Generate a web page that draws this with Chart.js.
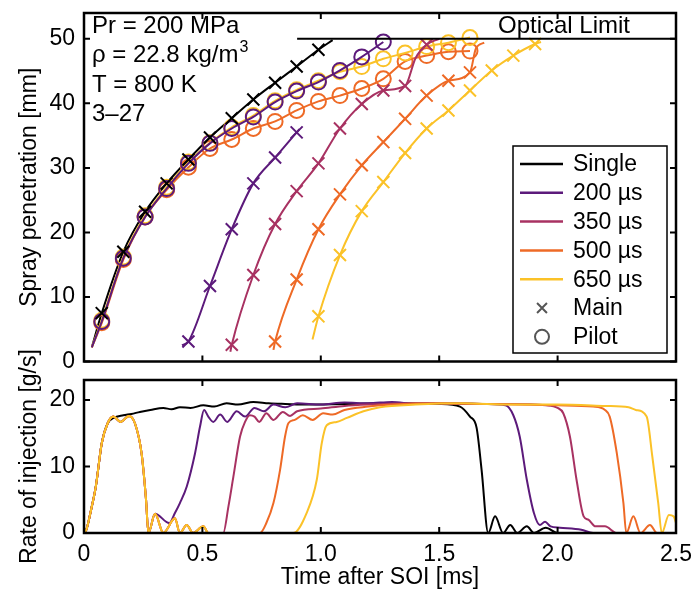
<!DOCTYPE html>
<html>
<head>
<meta charset="utf-8">
<script src="https://cdn.jsdelivr.net/npm/chart.js@4.4.0/dist/chart.umd.min.js"></script>
<style>
  html, body { margin: 0; padding: 0; background: #fff; }
  #wrap { position: relative; width: 691px; height: 601px; }
  #top { position: absolute; left: 0; top: 0; }
  #bot { position: absolute; left: 0; top: 330px; }
</style>
</head>
<body>
<div id="wrap">
  <canvas id="top" width="691" height="372"></canvas>
  <canvas id="bot" width="691" height="271"></canvas>
</div>
<script>
'use strict';

// ── Data ──────────────────────────────────────────────────────────────────────

const seriesLabels = ['Single', '200 µs', '350 µs', '500 µs', '650 µs'];
const seriesColors = ['#000000', '#5c1a7b', '#a83262', '#ee6a26', '#fbc228'];

const timeTicks = [0, 0.5, 1, 1.5, 2, 2.5];
const penTicks = [0, 10, 20, 30, 40, 50];
const rateTicks = [0, 10, 20];

const infoLines = ['Pr = 200 MPa', 'ρ = 22.8 kg/m', 'T = 800 K', '3–27'];
const opticalLimit = 50;
const opticalStart = 0.9;

// spray penetration, main injection (× markers)
const singleT = [0.075, 0.166, 0.258, 0.349, 0.441, 0.532, 0.624, 0.715, 0.807, 0.898, 0.990];
const singleMain = [7.5, 17.0, 23.2, 27.6, 31.3, 34.7, 37.7, 40.6, 43.2, 45.7, 48.3];
const main200T = [0.441, 0.532, 0.624, 0.715, 0.807, 0.898];
const main200 = [3.1, 11.7, 20.5, 27.6, 31.6, 35.5];
const main350T = [0.624, 0.715, 0.807, 0.898, 0.990, 1.081, 1.173, 1.264, 1.356, 1.447];
const main350 = [2.6, 13.4, 21.3, 26.4, 30.7, 36.1, 39.9, 42.0, 42.7, 49.1];
const main500T = [0.807, 0.898, 0.990, 1.081, 1.173, 1.264, 1.356, 1.447, 1.539, 1.630];
const main500 = [3.1, 12.7, 20.5, 25.9, 30.4, 34.0, 37.6, 41.2, 43.5, 44.8];
const main650T = [0.990, 1.081, 1.173, 1.264, 1.356, 1.447, 1.539, 1.630, 1.722, 1.813, 1.905];
const main650 = [7.0, 16.5, 23.3, 27.8, 32.3, 36.1, 38.9, 42.0, 45.1, 47.4, 49.2];

// fitted line ends for the main curves (single, 200, 350, 500, 650)
const mainLineStart = [[0.033, 2.2], [0.414, 2.5], [0.618, 1.5], [0.80, 1.8], [0.965, 3.4]];
const mainLineEnd = [[1.05, 49.8], [0.91, 36.0], [1.50, 50.0], [1.69, 49.4], [1.93, 49.5]];
const mainLineExtra = [[], [], [[1.40, 47.0]], [[1.655, 48.5]], []];

// spray penetration, pilot injection (○ markers)
const pilotT = [0.075, 0.166, 0.258, 0.349, 0.441, 0.532, 0.624, 0.715, 0.807, 0.898, 0.990, 1.081, 1.173, 1.264, 1.356, 1.447, 1.539, 1.630];
const pilot200 = [6.2, 16.0, 22.4, 26.8, 30.7, 33.8, 36.1, 37.9, 40.2, 41.9, 43.3, 45.1, 47.2, 49.5];
const pilot500 = [6.0, 15.8, 22.4, 26.6, 30.1, 33.0, 34.4, 36.1, 37.2, 38.9, 40.3, 41.2, 42.3, 43.8, 46.5, 47.4, 48.0, 48.1];
const pilot650 = [6.4, 16.2, 22.6, 27.0, 30.9, 33.9, 36.3, 38.1, 40.4, 42.1, 43.5, 44.9, 45.7, 46.9, 47.8, 48.8, 49.4, 50.2];
const pilotLineStart = [0.033, 2.2];

// rate of injection
const rateSingleT = [0, 0.01, 0.03, 0.05, 0.075, 0.1, 0.125, 0.166, 0.2, 0.236, 0.28, 0.335, 0.37, 0.405, 0.45, 0.504, 0.55, 0.602, 0.65, 0.715, 0.78, 0.85, 0.95, 1.1, 1.3, 1.5, 1.588, 1.63, 1.658, 1.679, 1.707, 1.736, 1.77, 1.80, 1.83, 1.87, 1.9, 1.95, 2.0, 2.5];
const rateSingle = [0, 0.5, 3.5, 7, 13.5, 16.5, 17.3, 17.7, 17.9, 18.2, 18.5, 18.8, 18.6, 18.9, 18.8, 19.2, 19.0, 19.5, 19.3, 19.7, 19.5, 19.4, 19.3, 19.4, 19.5, 19.4, 19.0, 17.5, 15.8, 9.5, 0, 2.5, 0, 1.2, 0, 1.0, 0, 0.8, 0, 0];

const pilotRateT = [0, 0.01, 0.03, 0.05, 0.075, 0.1, 0.124, 0.155, 0.19, 0.215, 0.243, 0.262, 0.272, 0.30, 0.335];
const pilotRate = [0, 0.5, 3.5, 7, 13.5, 16.5, 17.5, 16.7, 17.6, 16.5, 12, 5, 0, 2.9, 0];

const rate200T = [0.36, 0.384, 0.405, 0.434, 0.469, 0.49, 0.507, 0.525, 0.546, 0.575, 0.605, 0.645, 0.68, 0.72, 0.76, 0.8, 0.85, 0.9, 1.0, 1.1, 1.2, 1.3, 1.4, 1.5, 1.6, 1.7, 1.78, 1.813, 1.84, 1.87, 1.9, 1.925, 1.947, 1.97, 2.01, 2.1, 2.15, 2.5];
const rate200 = [1.5, 3, 4.5, 7, 12, 16, 18.5, 17.5, 16.7, 17.8, 16.7, 18.3, 17.5, 18.8, 18.3, 19.3, 18.9, 19.5, 19.3, 19.6, 19.5, 19.7, 19.4, 19.5, 19.5, 19.4, 19.2, 17.7, 14.5, 8, 3, 1.2, 1.7, 1.0, 0.8, 0.5, 0, 0];
const rate350T = [0.384, 0.405, 0.434, 0.46, 0.504, 0.525, 0.588, 0.61, 0.631, 0.659, 0.68, 0.70, 0.72, 0.74, 0.77, 0.80, 0.84, 0.87, 0.9, 1.0, 1.1, 1.2, 1.4, 1.6, 1.8, 1.95, 2.0, 2.024, 2.052, 2.08, 2.11, 2.13, 2.16, 2.2, 2.25, 2.5];
const rate350 = [2.2, 0, 1.2, 0, 1.0, 0, 0, 4, 8.5, 14.5, 16.7, 17.7, 17.5, 16.7, 18, 17, 18.2, 17.6, 18.3, 18.7, 19.1, 19.3, 19.5, 19.4, 19.4, 19.2, 18.8, 18, 14.5, 8, 2.5, 2, 1, 1, 0, 0];
const rate500T = [0.384, 0.405, 0.434, 0.46, 0.504, 0.525, 0.743, 0.77, 0.80, 0.828, 0.849, 0.863, 0.89, 0.924, 0.966, 1.01, 1.05, 1.1, 1.2, 1.3, 1.5, 1.7, 2.0, 2.15, 2.2, 2.22, 2.25, 2.278, 2.29, 2.32, 2.35, 2.39, 2.42, 2.5];
const rate500 = [2.2, 0, 1.2, 0, 1.0, 0, 0, 1.5, 4.5, 9.5, 14.5, 16.5, 17, 17.7, 17, 18, 17.8, 18.5, 19, 19.3, 19.5, 19.4, 19.2, 19.0, 18.5, 17.5, 12, 4.5, 0, 2.5, 0, 1.2, 0, 0];
const rate650T = [0.384, 0.405, 0.434, 0.46, 0.504, 0.525, 0.884, 0.94, 0.983, 1.004, 1.025, 1.067, 1.11, 1.18, 1.25, 1.4, 1.6, 1.8, 2.0, 2.2, 2.3, 2.33, 2.376, 2.40, 2.425, 2.44, 2.47, 2.49, 2.5];
const rate650 = [2.2, 0, 1.2, 0, 1.0, 0, 0, 3, 8, 13.5, 16.2, 16.7, 17.3, 18.3, 18.9, 19.3, 19.5, 19.3, 19.3, 19.1, 18.9, 18.5, 17.5, 11.5, 4.5, 0, 2.7, 2.5, 1.5];

// ── Helpers ───────────────────────────────────────────────────────────────────

const FONT = '"Liberation Sans", Arial, Helvetica, sans-serif';
Chart.defaults.font.family = FONT;
Chart.defaults.font.size = 23;
Chart.defaults.color = '#000';

function pts(t, v) {
  return v.map((y, i) => ({ x: t[i], y }));
}

function fitLine(start, t, v, extra, end) {
  const p = [{ x: start[0], y: start[1] }, ...pts(t, v)];
  (extra || []).forEach(e => p.push({ x: e[0], y: e[1] }));
  if (end) p.push({ x: end[0], y: end[1] });
  return p.sort((a, b) => a.x - b.x);
}

function lineSet(data, color, width = 2) {
  return {
    data, showLine: true, borderColor: color, borderWidth: width,
    pointRadius: 0, fill: false, cubicInterpolationMode: 'monotone',
  };
}

function markSet(data, color, style) {
  return {
    data, showLine: false, pointStyle: style,
    pointRadius: style === 'circle' ? 7.5 : 8.5,
    pointBorderColor: color, pointBackgroundColor: 'transparent',
    pointBorderWidth: 2,
  };
}

// keep the plot box exactly where the layout padding puts it
function noPadY(s) { s.width = 84; s.paddingTop = 0; s.paddingBottom = 0; }
function noPadX(h) {
  return s => { s.height = h; s.paddingLeft = 0; s.paddingRight = 0; };
}

// MATLAB-like box with inward ticks on all four sides
const matlabFrame = {
  id: 'matlabFrame',
  afterDatasetsDraw(chart, args, opts) {
    const { ctx, chartArea: a, scales: { x, y } } = chart;
    ctx.save();
    ctx.strokeStyle = '#000';
    ctx.lineWidth = 2;
    ctx.beginPath();
    opts.xTicks.forEach(v => {
      const px = x.getPixelForValue(v);
      ctx.moveTo(px, a.bottom); ctx.lineTo(px, a.bottom - 6);
      ctx.moveTo(px, a.top); ctx.lineTo(px, a.top + 6);
    });
    opts.yTicks.forEach(v => {
      const py = y.getPixelForValue(v);
      ctx.moveTo(a.left, py); ctx.lineTo(a.left + 6, py);
      ctx.moveTo(a.right, py); ctx.lineTo(a.right - 6, py);
    });
    ctx.stroke();
    ctx.lineWidth = 2.5;
    ctx.strokeRect(a.left, a.top, a.right - a.left, a.bottom - a.top);
    ctx.restore();
  },
};

// info text, optical limit label and legend box
const topDecor = {
  id: 'topDecor',
  afterDraw(chart) {
    const { ctx, chartArea: a } = chart;
    ctx.save();
    ctx.fillStyle = '#000';
    ctx.font = '24px ' + FONT;
    ctx.textAlign = 'left';
    ctx.textBaseline = 'alphabetic';
    infoLines.forEach((s, i) => {
      const by = a.top + 20 + i * 29.3;
      ctx.fillText(s, a.left + 8, by);
      if (i === 1) {
        const w = ctx.measureText(s).width;
        ctx.font = '16px ' + FONT;
        ctx.fillText('3', a.left + 9 + w, by - 10);
        ctx.font = '24px ' + FONT;
      }
    });
    ctx.fillText('Optical Limit', a.left + 414, a.top + 20);

    // legend
    const lx = a.right - 163, ly = a.top + 133, lw = 154, lh = 207;
    ctx.fillStyle = '#fff';
    ctx.fillRect(lx, ly, lw, lh);
    ctx.strokeStyle = '#000';
    ctx.lineWidth = 1.5;
    ctx.strokeRect(lx, ly, lw, lh);
    ctx.font = '23px ' + FONT;
    ctx.textBaseline = 'middle';
    const row = i => ly + 18 + i * 28.8;
    seriesLabels.forEach((lab, i) => {
      ctx.strokeStyle = seriesColors[i];
      ctx.lineWidth = 2.5;
      ctx.beginPath();
      ctx.moveTo(lx + 7, row(i)); ctx.lineTo(lx + 50, row(i));
      ctx.stroke();
      ctx.fillStyle = '#000';
      ctx.fillText(lab, lx + 60, row(i) + 1);
    });
    ctx.strokeStyle = '#555';
    ctx.lineWidth = 2;
    const cx = lx + 29;
    Chart.helpers.drawPoint(ctx, { pointStyle: 'crossRot', radius: 7, borderWidth: 2 }, cx, row(5));
    ctx.beginPath();
    ctx.arc(cx, row(6), 7, 0, Math.PI * 2);
    ctx.stroke();
    ctx.fillStyle = '#000';
    ctx.fillText('Main', lx + 60, row(5) + 1);
    ctx.fillText('Pilot', lx + 60, row(6) + 1);
    ctx.restore();
  },
};

// ── Top chart: spray penetration ─────────────────────────────────────────────

const mainT = [singleT, main200T, main350T, main500T, main650T];
const mainV = [singleMain, main200, main350, main500, main650];

const topSets = [];
// first pushed is drawn on top
topSets.push(markSet(pts(singleT, singleMain), seriesColors[0], 'crossRot'));
topSets.push(lineSet([{ x: opticalStart, y: opticalLimit }, { x: 2.5, y: opticalLimit }], '#000'));
for (let i = 1; i < 5; i++) {
  topSets.push(markSet(pts(mainT[i], mainV[i]), seriesColors[i], 'crossRot'));
  topSets.push(lineSet(fitLine(mainLineStart[i], mainT[i], mainV[i], mainLineExtra[i], mainLineEnd[i]), seriesColors[i]));
}
[[pilot200, 1], [pilot650, 4], [pilot500, 3]].forEach(([v, c]) => {
  const t = pilotT.slice(0, v.length);
  topSets.push(markSet(pts(t, v), seriesColors[c], 'circle'));
  topSets.push(lineSet(fitLine(pilotLineStart, t, v), seriesColors[c]));
});
// single-injection fit sits under the pilot curves
topSets.push(lineSet(fitLine(mainLineStart[0], singleT, singleMain, mainLineExtra[0], mainLineEnd[0]), seriesColors[0]));

new Chart(document.getElementById('top'), {
  type: 'scatter',
  data: { datasets: topSets },
  options: {
    responsive: false,
    animation: false,
    events: [],
    layout: { padding: { top: 13, right: 15, bottom: 10, left: 0 } },
    plugins: {
      legend: { display: false },
      tooltip: { enabled: false },
      matlabFrame: { xTicks: timeTicks, yTicks: penTicks },
    },
    scales: {
      x: { type: 'linear', min: 0, max: 2.5, display: false },
      y: {
        type: 'linear', min: 0, max: 54,
        afterFit: noPadY,
        afterBuildTicks: s => { s.ticks = penTicks.map(v => ({ value: v })); },
        grid: { display: false, drawTicks: false },
        border: { display: false },
        ticks: { color: '#000', padding: 9 },
        title: { display: true, text: 'Spray penetration [mm]', color: '#000', padding: { top: 16, bottom: 0 } },
      },
    },
  },
  plugins: [matlabFrame, topDecor],
});

// ── Bottom chart: rate of injection ──────────────────────────────────────────

const botSets = [
  lineSet(pts([...pilotRateT, ...rate650T], [...pilotRate, ...rate650]), seriesColors[4]),
  lineSet(pts([...pilotRateT, ...rate500T], [...pilotRate, ...rate500]), seriesColors[3]),
  lineSet(pts([...pilotRateT, ...rate350T], [...pilotRate, ...rate350]), seriesColors[2]),
  lineSet(pts([...pilotRateT.slice(0, 14), ...rate200T], [...pilotRate.slice(0, 14), ...rate200]), seriesColors[1]),
  lineSet(pts(rateSingleT, rateSingle), seriesColors[0]),
];

new Chart(document.getElementById('bot'), {
  type: 'scatter',
  data: { datasets: botSets },
  options: {
    responsive: false,
    animation: false,
    events: [],
    layout: { padding: { top: 50, right: 15, bottom: 0, left: 0 } },
    plugins: {
      legend: { display: false },
      tooltip: { enabled: false },
      matlabFrame: { xTicks: timeTicks, yTicks: rateTicks },
    },
    scales: {
      x: {
        type: 'linear', min: 0, max: 2.5,
        afterFit: noPadX(68),
        afterBuildTicks: s => { s.ticks = timeTicks.map(v => ({ value: v })); },
        grid: { display: false, drawTicks: false },
        border: { display: false },
        ticks: { color: '#000', padding: 8, maxRotation: 0 },
        title: { display: true, text: 'Time after SOI [ms]', color: '#000', padding: { top: 0, bottom: 10 } },
      },
      y: {
        type: 'linear', min: 0, max: 23,
        afterFit: noPadY,
        afterBuildTicks: s => { s.ticks = rateTicks.map(v => ({ value: v })); },
        grid: { display: false, drawTicks: false },
        border: { display: false },
        ticks: { color: '#000', padding: 9 },
        title: { display: true, text: 'Rate of injection [g/s]', color: '#000', padding: { top: 16, bottom: 0 } },
      },
    },
  },
  plugins: [matlabFrame],
});
</script>
</body>
</html>
